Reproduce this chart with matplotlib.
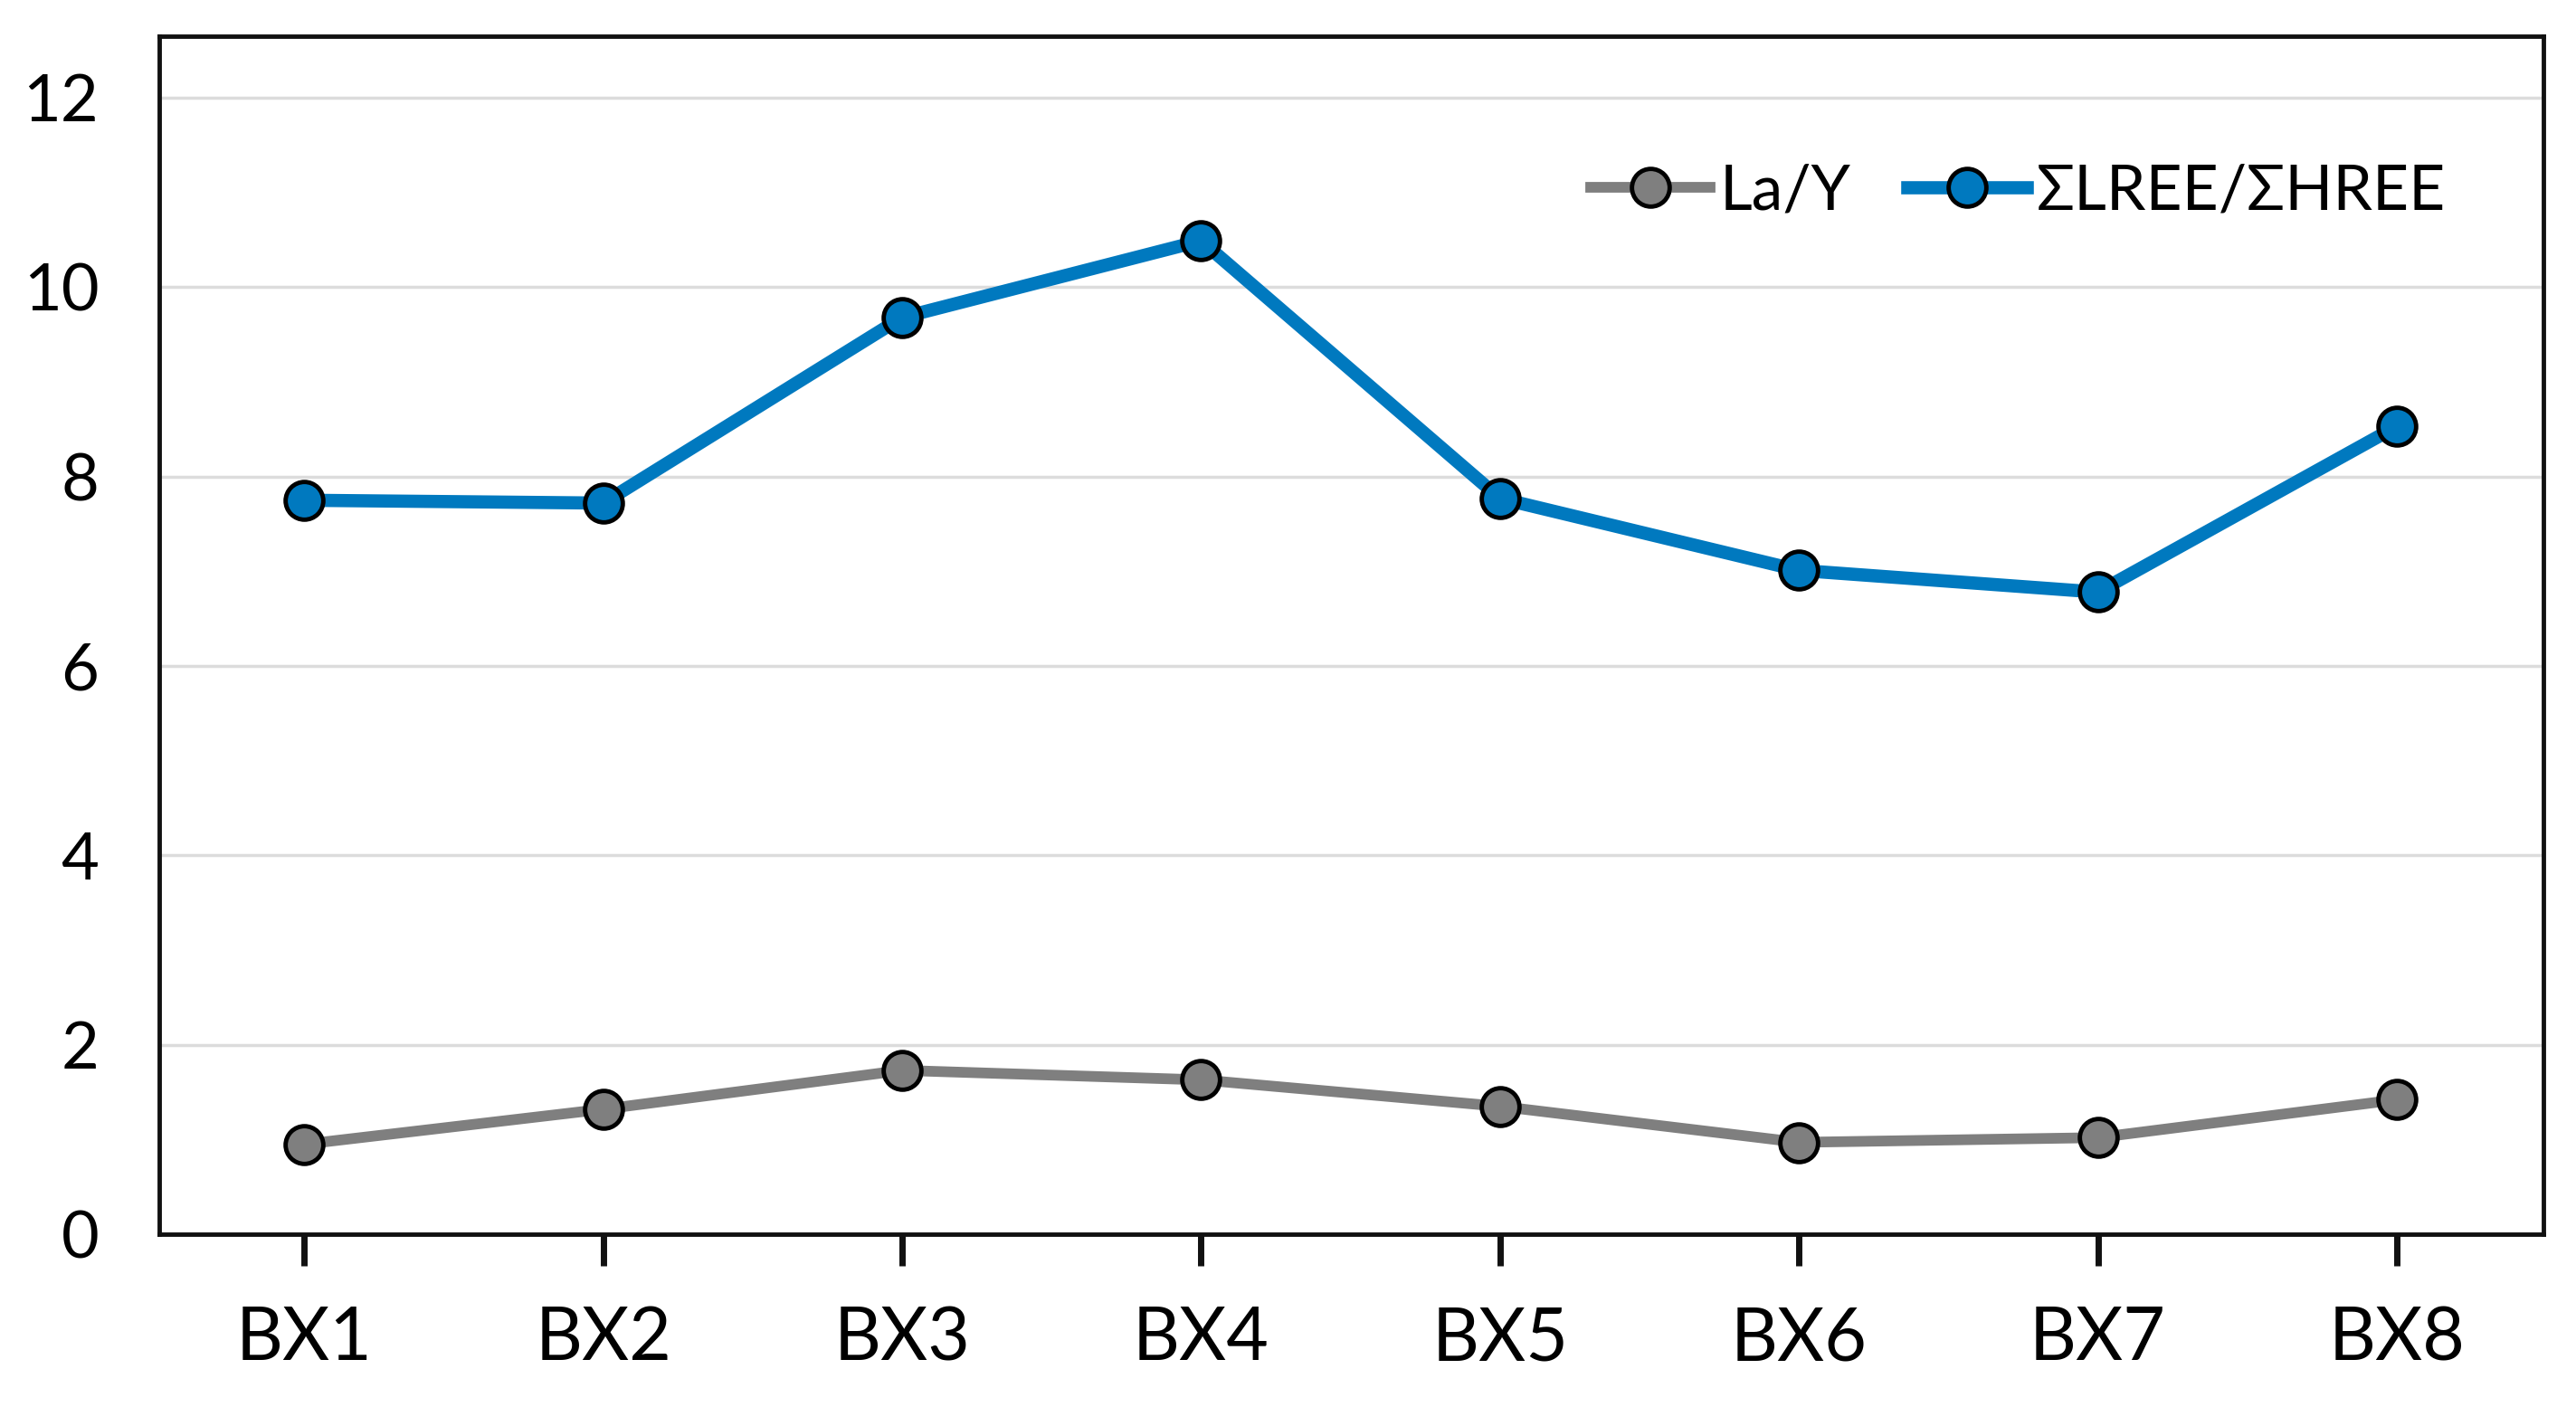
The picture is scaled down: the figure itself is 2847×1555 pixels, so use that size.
import numpy as np
import matplotlib.pyplot as plt

samples = ['BX1', 'BX2', 'BX3', 'BX4', 'BX5', 'BX6', 'BX7', 'BX8']
la_y = [0.95, 1.32, 1.73, 1.63, 1.35, 0.97, 1.02, 1.42]
lree_hree = [7.75, 7.72, 9.68, 10.49, 7.77, 7.01, 6.78, 8.53]
yticks = [0, 2, 4, 6, 8, 10, 12]

plt.rcParams['font.family'] = ['Lato', 'DejaVu Sans']

fig = plt.figure(figsize=(28.47, 15.55), dpi=100)
ax = fig.add_axes([0.0618, 0.1228, 0.9255, 0.8515])

x = np.arange(len(samples))
ax.plot(x, la_y, color='#7f7f7f', lw=8.5, marker='o', ms=30, mfc='#7f7f7f',
        mec='black', mew=3.5, label='La/Y', zorder=3)
ax.plot(x, lree_hree, color='#0079bf', lw=10.5, marker='o', ms=30, mfc='#0079bf',
        mec='black', mew=3.5, label='ΣLREE/ΣHREE', zorder=3)

ax.set_xlim(-0.485, 7.49)
ax.set_ylim(0, 12.65)
ax.set_xticks(x)
ax.set_xticklabels(samples, fontsize=58)
ax.set_yticks(yticks)
ax.set_yticklabels([str(v) for v in yticks], fontsize=52)
ax.tick_params(axis='x', direction='out', length=25, width=5, pad=32, color='#111111')
ax.tick_params(axis='y', length=0, pad=48)
ax.grid(axis='y', color='#dcdcdc', lw=2.5, zorder=0)
ax.set_axisbelow(True)
for s in ax.spines.values():
    s.set_linewidth(3.5)
    s.set_color('#111111')

ax.legend(loc='center right', ncol=2, frameon=False, fontsize=50,
          bbox_to_anchor=(0.959, 0.87), handlelength=1.9, handletextpad=0.15,
          columnspacing=0.9, borderaxespad=0, borderpad=0)

fig.savefig('out.png', dpi=100)
